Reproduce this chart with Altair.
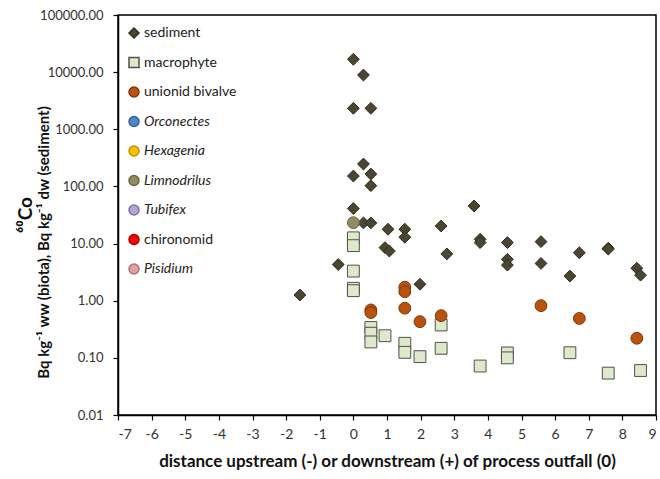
import altair as alt
import pandas as pd

# ---- data ----
sed_x = [0.0, 0.3, 0.0, 0.52, 0.3, 0.0, 0.52, 0.52, 0.0, 0.3, 0.52, 1.03, 1.53, 1.53,
         0.94, 1.07, -0.45, -1.59, 1.98, 2.61, 2.78, 3.59, 3.77, 3.77, 4.58, 4.58, 4.58,
         5.58, 5.58, 6.72, 6.44, 7.58, 7.58, 8.43, 8.54]
sed_y = [16800, 8900, 2330, 2330, 247, 152, 165, 103, 41, 23, 23, 17.8, 17.8, 12.9,
         8.5, 7.4, 4.3, 1.26, 1.94, 20.3, 6.6, 45.5, 11.9, 10.4, 10.4, 5.3, 4.2,
         10.8, 4.5, 6.9, 2.7, 8.3, 8.0, 3.7, 2.8]

mac_x = [0.0, 0.0, 0.0, 0.0, 0.0, 0.52, 0.52, 0.52, 0.94, 1.53, 1.53, 1.98, 2.61, 2.61,
         3.77, 4.58, 4.58, 6.44, 7.58, 8.54]
mac_y = [12.6, 9.2, 3.3, 1.65, 1.5, 0.34, 0.27, 0.19, 0.244, 0.18, 0.125, 0.105, 0.376, 0.147,
         0.072, 0.122, 0.1, 0.123, 0.054, 0.06]

uni_x = [0.52, 0.52, 1.53, 1.53, 1.53, 1.98, 2.61, 5.58, 6.72, 8.43]
uni_y = [0.69, 0.62, 1.72, 1.44, 0.74, 0.43, 0.547, 0.82, 0.49, 0.22]

lim_x = [0.0]
lim_y = [23.2]

categories = ["sediment", "macrophyte", "unionid bivalve", "Orconectes", "Hexagenia",
              "Limnodrilus", "Tubifex", "chironomid", "Pisidium"]
fills = ["#4B4631", "#DDE9C9", "#B9520C", "#4F86C6", "#FFC000", "#938B60",
         "#B4A7D6", "#FF0000", "#E6A0A0"]
strokes = ["#2F2B1D", "#505050", "#7A380C", "#35649A", "#C08F00", "#6B6544",
           "#7E719F", "#B00000", "#B07272"]
shapes = ["diamond", "square", "circle", "circle", "circle", "circle", "circle", "circle", "circle"]
italic = ["Orconectes", "Hexagenia", "Limnodrilus", "Tubifex", "Pisidium"]

x_ticks = list(range(-7, 10))
y_ticks = [0.01, 0.1, 1, 10, 100, 1000, 10000, 100000]

rows = []
for name, xs, ys in [("sediment", sed_x, sed_y), ("macrophyte", mac_x, mac_y),
                     ("unionid bivalve", uni_x, uni_y), ("Limnodrilus", lim_x, lim_y)]:
    for a, b in zip(xs, ys):
        rows.append({"dist": a, "val": b, "cat": name})
df = pd.DataFrame(rows)

FONT = "Lato"
ital_list = "[" + ",".join("'" + s + "'" for s in italic) + "]"
italic_expr = "indexof(" + ital_list + ", datum.label) >= 0 ? 'italic' : 'normal'"

chart = alt.Chart(df).mark_point(strokeWidth=1, opacity=1, filled=True, size=140).encode(
    x=alt.X("dist:Q",
            scale=alt.Scale(domain=[-7, 9], nice=False, zero=False),
            axis=alt.Axis(values=x_ticks, labelExpr="'' + datum.value",
                          title="distance upstream (-) or downstream (+) of process outfall (0)",
                          titleFont=FONT, titleFontSize=17, titleFontWeight="bold",
                          titleColor="#111", titlePadding=12,
                          labelFont=FONT, labelFontSize=14, labelColor="#333",
                          labelPadding=7, tickSize=5, grid=False,
                          domainColor="#000", domainWidth=1.5, tickColor="#000", tickWidth=1.2)),
    y=alt.Y("val:Q",
            scale=alt.Scale(type="log", domain=[0.01, 100000], nice=False),
            axis=alt.Axis(values=y_ticks, format=".2f",
                          title="Bq kg⁻¹ ww (biota), Bq kg⁻¹ dw (sediment)",
                          titleFont=FONT, titleFontSize=15, titleFontWeight="bold",
                          titleColor="#111", titleAngle=270, titleX=-75, titleY=227,
                          titleAlign="center", titleBaseline="middle",
                          labelFont=FONT, labelFontSize=13, labelColor="#333",
                          labelPadding=10, tickSize=5, grid=False,
                          domainColor="#000", domainWidth=1.5, tickColor="#000", tickWidth=1.2)),
    color=alt.Color("cat:N", scale=alt.Scale(domain=categories, range=fills),
                    legend=alt.Legend(title=None, orient="none", legendX=9, legendY=11,
                                      padding=0, labelOffset=3,
                                      labelFont=FONT, labelFontSize=14, labelColor="#222",
                                      labelFontStyle=alt.ExprRef(expr=italic_expr),
                                      rowPadding=13.5, symbolSize=100)),
    stroke=alt.Stroke("cat:N", scale=alt.Scale(domain=categories, range=strokes)),
    shape=alt.Shape("cat:N", scale=alt.Scale(domain=categories, range=shapes)),
).properties(
    width=538, height=400,
    padding={"left": 118, "top": 15, "right": 4, "bottom": 64},
    autosize=alt.AutoSizeParams(type="none"),
    title=alt.TitleParams("⁶⁰Co", orient="left", anchor="middle", angle=270,
                          font=FONT, fontSize=19, fontWeight="bold", color="#111", offset=0),
).configure_view(stroke="#000", strokeWidth=1.5)

chart.save("out.html", embed_options={"renderer": "svg", "actions": False})
